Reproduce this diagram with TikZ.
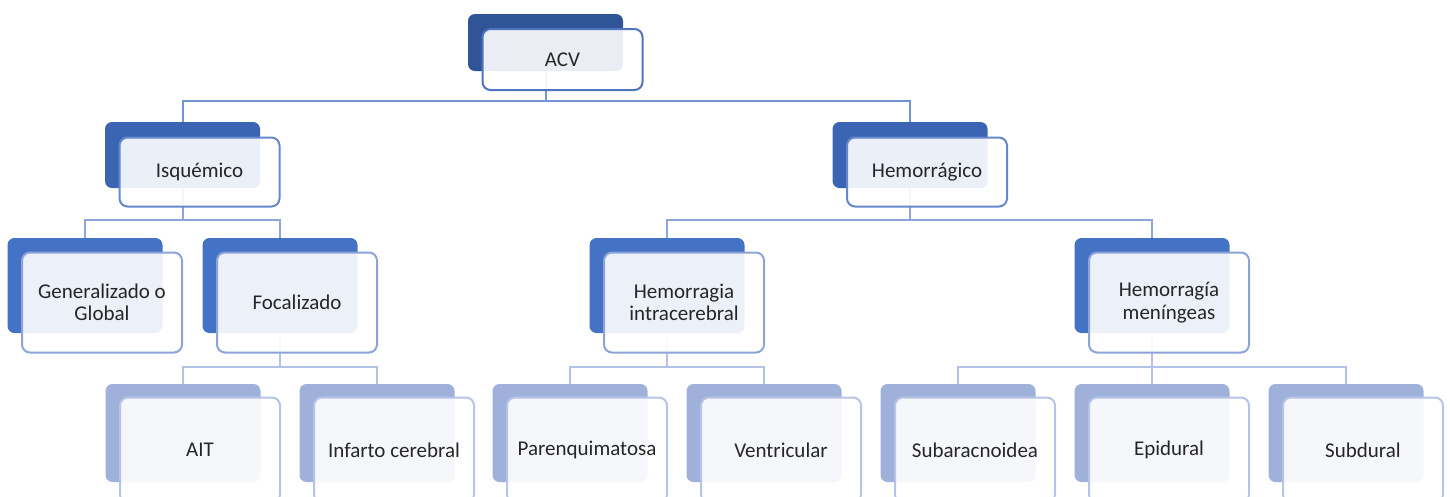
\documentclass[tikz,border=0pt]{standalone}
\usepackage{fontspec}
\setmainfont{Carlito}
\usetikzlibrary{backgrounds}

\definecolor{fillA}{HTML}{2F5597}
\definecolor{fillB}{HTML}{3B65B3}
\definecolor{fillC}{HTML}{4472C4}
\definecolor{fillD}{HTML}{9FB0DA}
\definecolor{edgeA}{HTML}{4F74C0}
\definecolor{edgeB}{HTML}{6687CC}
\definecolor{edgeC}{HTML}{8DA4D9}
\definecolor{edgeD}{HTML}{B6C4E7}
\definecolor{lineA}{HTML}{7393D1}
\definecolor{lineB}{HTML}{8DA5DA}
\definecolor{lineC}{HTML}{B4C2E6}
\definecolor{ink}{HTML}{262626}

\begin{document}
\begin{tikzpicture}[x=1pt,y=-1pt,
font=\fontsize{21}{22.5}\selectfont,
backbox/.style = {rounded corners=7pt, inner sep=0pt, minimum width=155pt, fill=#1},
frontbox/.style = {rounded corners=8pt, draw=#1, line width=2pt, fill=white,
  fill opacity=0.9, text opacity=1, text=ink, align=center, inner sep=0pt,
  minimum width=160pt},
link/.style = {draw=#1, line width=2pt}]

\useasboundingbox (0,0) rectangle (1450,496);

% back plates
\node[backbox=fillA, minimum height=57pt] (acvB) at (545.5,42.5) {};
\node[backbox=fillB, minimum height=66pt] (isqB) at (182.5,155) {};
\node[backbox=fillB, minimum height=66pt] (hemB) at (910,155) {};
\node[backbox=fillC, minimum height=95pt] (genB) at (85,285.5) {};
\node[backbox=fillC, minimum height=95pt] (focB) at (280,285.5) {};
\node[backbox=fillC, minimum height=95pt] (intB) at (667,285.5) {};
\node[backbox=fillC, minimum height=95pt] (menB) at (1152,285.5) {};
\node[backbox=fillD, minimum height=98pt] (aitB) at (183,433) {};
\node[backbox=fillD, minimum height=98pt] (infB) at (377,433) {};
\node[backbox=fillD, minimum height=98pt] (parB) at (570,433) {};
\node[backbox=fillD, minimum height=98pt] (venB) at (764,433) {};
\node[backbox=fillD, minimum height=98pt] (subaB) at (958,433) {};
\node[backbox=fillD, minimum height=98pt] (epiB) at (1152,433) {};
\node[backbox=fillD, minimum height=98pt] (subdB) at (1346,433) {};

% front cards
\node[frontbox=edgeA, minimum height=61pt] (acv) at ([shift={(17,17)}]acvB.center) {ACV};
\node[frontbox=edgeB, minimum height=69pt] (isq) at ([shift={(17,17)}]isqB.center) {Isquémico};
\node[frontbox=edgeB, minimum height=69pt] (hem) at ([shift={(17,17)}]hemB.center) {Hemorrágico};
\node[frontbox=edgeC, minimum height=100pt] (gen) at ([shift={(17,17)}]genB.center) {Generalizado o\\Global};
\node[frontbox=edgeC, minimum height=100pt] (foc) at ([shift={(17,17)}]focB.center) {Focalizado};
\node[frontbox=edgeC, minimum height=100pt] (int) at ([shift={(17,17)}]intB.center) {Hemorragia\\intracerebral};
\node[frontbox=edgeC, minimum height=100pt] (men) at ([shift={(17,17)}]menB.center) {Hemorragía\\meníngeas};
\node[frontbox=edgeD, minimum height=105pt] (ait) at ([shift={(17,17)}]aitB.center) {AIT};
\node[frontbox=edgeD, minimum height=105pt] (inf) at ([shift={(17,17)}]infB.center) {Infarto cerebral};
\node[frontbox=edgeD, minimum height=105pt] (par) at ([shift={(17,17)}]parB.center) {Parenquimatosa};
\node[frontbox=edgeD, minimum height=105pt] (ven) at ([shift={(17,17)}]venB.center) {Ventricular};
\node[frontbox=edgeD, minimum height=105pt] (suba) at ([shift={(17,17)}]subaB.center) {Subaracnoidea};
\node[frontbox=edgeD, minimum height=105pt] (epi) at ([shift={(17,17)}]epiB.center) {Epidural};
\node[frontbox=edgeD, minimum height=105pt] (subd) at ([shift={(17,17)}]subdB.center) {Subdural};

% tree lines
\begin{scope}[on background layer]
\draw[link=lineA] (acvB.south) -- ++(0,30) -| (isqB.north);
\draw[link=lineA] (acvB.south) -- ++(0,30) -| (hemB.north);
\draw[link=lineB] (isqB.south) -- ++(0,32) -| (genB.north);
\draw[link=lineB] (isqB.south) -- ++(0,32) -| (focB.north);
\draw[link=lineB] (hemB.south) -- ++(0,32) -| (intB.north);
\draw[link=lineB] (hemB.south) -- ++(0,32) -| (menB.north);
\draw[link=lineC] (focB.south) -- ++(0,34) -| (aitB.north);
\draw[link=lineC] (focB.south) -- ++(0,34) -| (infB.north);
\draw[link=lineC] (intB.south) -- ++(0,34) -| (parB.north);
\draw[link=lineC] (intB.south) -- ++(0,34) -| (venB.north);
\draw[link=lineC] (menB.south) -- ++(0,34) -| (subaB.north);
\draw[link=lineC] (menB.south) -- ++(0,34) -| (epiB.north);
\draw[link=lineC] (menB.south) -- ++(0,34) -| (subdB.north);
\end{scope}
\end{tikzpicture}
\end{document}
